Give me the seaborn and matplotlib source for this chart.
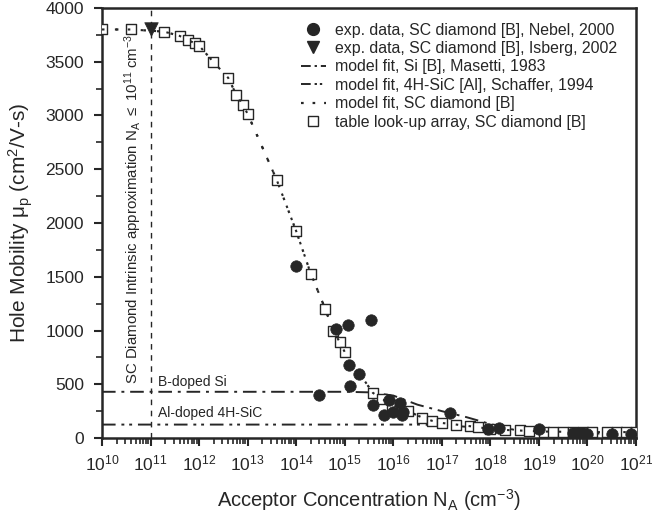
import numpy as np
import pandas as pd
import matplotlib
matplotlib.use("Agg")
import matplotlib.pyplot as plt
from matplotlib.lines import Line2D
import seaborn as sns

# ---- data (log10 of acceptor concentration, mobility in cm^2/V-s) ----
table_logN = [10.0, 10.6, 11.28, 11.6, 11.78, 11.92, 12.0, 12.29, 12.6, 12.77,
              12.9, 13.0, 13.6, 14.0, 14.3, 14.6, 14.76, 14.9, 15.0, 15.58,
              15.77, 15.97, 16.3, 16.6, 16.8, 17.0, 17.3, 17.58, 17.75, 18.0,
              18.3, 18.6, 18.8, 19.1, 19.3, 19.5, 19.7, 19.9, 20.1, 20.4,
              20.6, 20.8, 21.0]
table_mu = [3800, 3800, 3780, 3740, 3700, 3670, 3650, 3500, 3350, 3190,
            3100, 3015, 2400, 1925, 1530, 1200, 1000, 890, 800, 420,
            365, 310, 250, 190, 160, 140, 125, 110, 100, 85,
            75, 70, 65, 60, 60, 58, 58, 56, 55, 55,
            55, 55, 55]

nebel_logN = [14.0, 14.47, 14.83, 15.07, 15.54, 15.08, 15.3, 15.1, 15.58, 15.8,
              15.92, 16.0, 16.14, 16.18, 16.2, 17.17, 17.95, 18.17, 19.0, 19.7,
              19.8, 19.9, 20.0, 20.5, 20.9]
nebel_mu = [1600, 400, 1010, 1050, 1100, 680, 600, 480, 310, 215,
            355, 245, 330, 215, 240, 230, 80, 90, 80, 45,
            45, 45, 40, 40, 35]

isberg_logN = [11.0]
isberg_mu = [3800]

si_logN = [10.0, 15.0, 15.5, 16.0, 16.5, 17.0, 17.5, 18.0, 18.5, 19.0, 20.0, 21.0]
si_mu = [430, 430, 425, 395, 310, 250, 195, 130, 75, 55, 48, 45]

sic_logN = [10.0, 16.5, 17.0, 17.5, 18.0, 18.5, 19.0, 20.0, 21.0]
sic_mu = [125, 125, 120, 105, 80, 58, 48, 42, 40]

x_decades = list(range(10, 22))

# ---- style ----
sns.set_theme(style="ticks")
plt.rcParams["font.family"] = ["Liberation Sans", "DejaVu Sans"]
plt.rcParams["mathtext.fontset"] = "custom"
plt.rcParams["mathtext.rm"] = "Liberation Sans"
plt.rcParams["mathtext.it"] = "Liberation Sans:italic"
plt.rcParams["mathtext.default"] = "regular"
ink = "#262626"
plt.rcParams["text.color"] = ink
plt.rcParams["axes.labelcolor"] = ink
plt.rcParams["xtick.color"] = ink
plt.rcParams["ytick.color"] = ink

fig = plt.figure(figsize=(6.52, 5.18), dpi=100)
ax = fig.add_axes([0.1564, 0.1544, 0.8191, 0.8302])

table = pd.DataFrame({"N": np.power(10.0, table_logN), "mu": table_mu})
nebel = pd.DataFrame({"N": np.power(10.0, nebel_logN), "mu": nebel_mu})
isberg = pd.DataFrame({"N": np.power(10.0, isberg_logN), "mu": isberg_mu})
si = pd.DataFrame({"N": np.power(10.0, si_logN), "mu": si_mu})
sic = pd.DataFrame({"N": np.power(10.0, sic_logN), "mu": sic_mu})

ax.set_xscale("log")

# intrinsic limit marker line
ax.axvline(1e11, color=ink, lw=1.0, ls=(0, (4, 4)), zorder=1)

# model curves
sns.lineplot(data=si, x="N", y="mu", ax=ax, color=ink, lw=1.4,
             estimator=None, sort=False, zorder=2)
ax.lines[-1].set_dashes([7, 3, 1.5, 3])
sns.lineplot(data=sic, x="N", y="mu", ax=ax, color=ink, lw=1.4,
             estimator=None, sort=False, zorder=2)
ax.lines[-1].set_dashes([7, 3, 1.5, 2.5, 1.5, 3])
sns.lineplot(data=table, x="N", y="mu", ax=ax, color=ink, lw=1.6,
             estimator=None, sort=False, zorder=2)
ax.lines[-1].set_dashes([1.2, 5])

# table look-up squares
sns.scatterplot(data=table, x="N", y="mu", ax=ax, marker="s", s=55,
                facecolor="white", edgecolor=ink, linewidth=1.0, zorder=3)
# re-draw the fit line on top so it shows inside the squares
ax.plot(table["N"], table["mu"], color=ink, lw=1.5, dashes=[1.2, 5], zorder=3.5)

# experimental data
sns.scatterplot(data=nebel, x="N", y="mu", ax=ax, marker="o", s=68,
                color=ink, edgecolor=ink, linewidth=0.5, zorder=4)
sns.scatterplot(data=isberg, x="N", y="mu", ax=ax, marker="v", s=95,
                color=ink, edgecolor=ink, linewidth=0.5, zorder=4)

ax.set_xlim(1e10, 1e21)
ax.set_ylim(0, 4000)
ax.set_xticks([10.0 ** d for d in x_decades])
ax.set_xticklabels([r"$10^{%d}$" % d for d in x_decades])
ax.xaxis.set_minor_locator(matplotlib.ticker.LogLocator(base=10, subs=np.arange(2, 10), numticks=30))
ax.xaxis.set_minor_formatter(matplotlib.ticker.NullFormatter())
ax.set_yticks(np.arange(0, 4001, 500))
ax.yaxis.set_minor_locator(matplotlib.ticker.MultipleLocator(250))

ax.tick_params(axis="both", which="major", direction="out", length=6, width=1.5,
               labelsize=12.5, pad=5)
ax.tick_params(axis="y", which="major", pad=7)
ax.tick_params(axis="both", which="minor", direction="out", length=4, width=1.2)
for sp in ax.spines.values():
    sp.set_linewidth(1.8)
    sp.set_color(ink)
    sp.set_visible(True)

ax.set_xlabel(r"Acceptor Concentration N$_A$ (cm$^{-3}$)", fontsize=14.5, labelpad=10)
ax.set_ylabel(r"Hole Mobility $\mu_p$ (cm$^2$/V-s)", fontsize=15, labelpad=7)

# annotations
ax.text(10 ** 10.64, 505, r"SC Diamond Intrinsic approximation N$_A$ $\leq$ 10$^{11}$ cm$^{-3}$",
        rotation=90, ha="center", va="bottom", fontsize=10.8)
ax.text(10 ** 11.15, 455, "B-doped Si", ha="left", va="bottom", fontsize=10)
ax.text(10 ** 11.15, 165, "Al-doped 4H-SiC", ha="left", va="bottom", fontsize=10)

handles = [
    Line2D([], [], ls="none", marker="o", ms=8.5, color=ink),
    Line2D([], [], ls="none", marker="v", ms=9, color=ink),
    Line2D([], [], color=ink, lw=1.4, dashes=[5, 2, 1.2, 2]),
    Line2D([], [], color=ink, lw=1.4, dashes=[5, 2, 1.2, 1.5, 1.2, 2]),
    Line2D([], [], color=ink, lw=1.6, dashes=[1.2, 4]),
    Line2D([], [], ls="none", marker="s", ms=7, mfc="white", mec=ink, mew=1.0),
]
labels = [
    "exp. data, SC diamond [B], Nebel, 2000",
    "exp. data, SC diamond [B], Isberg, 2002",
    "model fit, Si [B], Masetti, 1983",
    "model fit, 4H-SiC [Al], Schaffer, 1994",
    "model fit, SC diamond [B]",
    "table look-up array, SC diamond [B]",
]
leg = ax.legend(handles, labels, loc="upper right", bbox_to_anchor=(0.985, 0.992),
                frameon=False, fontsize=11.4, handlelength=1.6, handletextpad=0.55,
                labelspacing=0.22, borderaxespad=0.3)

fig.savefig("out.png", dpi=100)
